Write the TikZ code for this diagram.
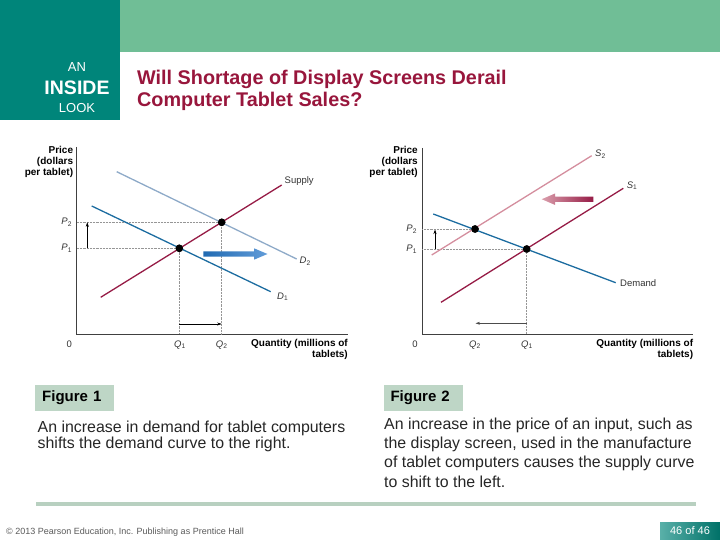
\documentclass[tikz,border=0pt]{standalone}
\usepackage{fontspec}
\setmainfont{Liberation Sans}
\usetikzlibrary{arrows.meta}

\definecolor{insideteal}{RGB}{0,133,122}
\definecolor{bandgreen}{RGB}{112,190,150}
\definecolor{titlered}{RGB}{152,22,60}
\definecolor{boxgreen}{RGB}{190,214,198}
\definecolor{rulegreen}{RGB}{184,208,192}
\definecolor{supplyred}{RGB}{150,28,70}
\definecolor{supplypink}{RGB}{212,142,158}
\definecolor{demandblue}{RGB}{28,108,160}
\definecolor{demandlight}{RGB}{142,170,200}
\definecolor{guidegray}{RGB}{150,150,150}
\definecolor{arrowblue}{RGB}{32,106,178}
\definecolor{arrowsky}{RGB}{98,156,216}

\newcommand{\cvlab}[2]{\textit{#1}\textsubscript{#2}}

\begin{document}
\begin{tikzpicture}[x=1pt, y=-1pt,
    axisline/.style={line width=0.7pt, black!75},
    curve/.style={line width=1.3pt},
    guide/.style={densely dotted, guidegray, line width=0.45pt},
    eqpt/.style={circle, fill=black, inner sep=0pt, minimum size=7.5pt},
    shiftarrow/.style={-{Stealth[length=4.5pt,width=3pt]}, line width=0.6pt},
    axlabel/.style={font=\bfseries\fontsize{10}{10.8}\selectfont, align=right, inner sep=0pt},
    curvelab/.style={font=\fontsize{9.5}{11}\selectfont, inner sep=0pt, text=black!80},
    figbox/.style={fill=boxgreen, minimum width=79pt, minimum height=26pt, anchor=north west,
      font=\bfseries\fontsize{15}{18}\selectfont, text width=65pt, inner xsep=7pt},
    bodytext/.style={anchor=north west, inner sep=0pt, align=left, text=black!85}]
  \useasboundingbox (0,0) rectangle (720,540);

  % Header
  \fill[bandgreen] (120,0) rectangle (720,52.5);
  \fill[insideteal] (0,0) rectangle (120,120.5);
  \node[text=white, font=\fontsize{13}{15}\selectfont] (an) at (77,67) {AN};
  \node[text=white, font=\bfseries\fontsize{19.5}{22}\selectfont] (inside) at (77,87.5) {INSIDE};
  \node[text=white, font=\fontsize{13}{15}\selectfont] (look) at (77,108) {LOOK};
  \node[anchor=west, inner sep=0pt, align=left, text=titlered,
    font=\bfseries\fontsize{19.8}{22}\selectfont] (title) at (137,90.5)
    {Will Shortage of Display Screens Derail\\Computer Tablet Sales?};

  % Figure 1: demand shift
  \draw[axisline] (76.7,147) -- (76.7,334) -- (348,334);
  \node[axlabel, anchor=north east] (price1) at (73.3,146) {Price\\(dollars\\per tablet)};
  \node[axlabel, anchor=north east] (qty1) at (348,339.5) {Quantity (millions of\\tablets)};
  \node[curvelab] (zero1) at (69.3,344) {0};

  \node[eqpt] (e1) at (179.3,248.3) {};
  \node[eqpt] (e2) at (221.7,222.3) {};
  \coordinate (p1a) at (76.7,248.3);
  \coordinate (p2a) at (76.7,222.3);
  \coordinate (q1a) at (179.3,334);
  \coordinate (q2a) at (221.7,334);
  \draw[guide] (p1a) -- (e1.center) -- (q1a);
  \draw[guide] (p2a) -- (e2.center) -- (q2a);

  \draw[curve, demandlight] (116.7,171.7) -- (296.7,259);
  \draw[curve, demandblue] (91.7,206) -- (270.7,291.7);
  \draw[curve, supplyred] (100.7,297.3) -- (281.7,185);
  \node[eqpt] at (e1) {};
  \node[eqpt] at (e2) {};

  \node[curvelab, anchor=west] (supplylab) at (284.5,181) {Supply};
  \node[curvelab, anchor=west] (d2lab) at (299.5,261.5) {\cvlab{D}{2}};
  \node[curvelab, anchor=west] (d1lab) at (277,296.5) {\cvlab{D}{1}};
  \node[curvelab] (p1lab) at (66.7,248.3) {\cvlab{P}{1}};
  \node[curvelab] (p2lab) at (66.7,222.3) {\cvlab{P}{2}};
  \node[curvelab] (q1lab) at (180,345) {\cvlab{Q}{1}};
  \node[curvelab] (q2lab) at (221.7,345) {\cvlab{Q}{2}};

  \coordinate (up1a) at (87.3,248.3);
  \coordinate (up1b) at (87.3,222.3);
  \coordinate (rt1a) at (179.3,324);
  \coordinate (rt1b) at (221.7,324);
  \draw[shiftarrow] (up1a) -- (up1b);
  \draw[shiftarrow] (rt1a) -- (rt1b);

  % big shift arrow (right)
  \shade[left color=arrowblue, right color=arrowsky]
    (203.3,251.3) -- (254,251.3) -- (254,248.3) -- (267.5,254) -- (254,259.7)
    -- (254,256.7) -- (203.3,256.7) -- cycle;

  % Figure 2: supply shift
  \draw[axisline] (422.3,148) -- (422.3,334.3) -- (693.3,334.3);
  \node[axlabel, anchor=north east] (price2) at (418,146) {Price\\(dollars\\per tablet)};
  \node[axlabel, anchor=north east] (qty2) at (693.3,339.5) {Quantity (millions of\\tablets)};
  \node[curvelab] (zero2) at (415,344) {0};

  \node[eqpt] (f1) at (526.7,249) {};
  \node[eqpt] (f2) at (475,229) {};
  \coordinate (r1a) at (422.3,249);
  \coordinate (r2a) at (422.3,229);
  \coordinate (s1a) at (526.7,334.3);
  \draw[guide] (r1a) -- (f1.center) -- (s1a);
  \draw[guide] (r2a) -- (f2.center);

  \draw[curve, supplypink] (431.7,255) -- (591.7,155.7);
  \draw[curve, supplyred] (441,302.3) -- (623.3,188.3);
  \draw[curve, demandblue] (433.3,214) -- (615.7,282.7);
  \node[eqpt] at (f1) {};
  \node[eqpt] at (f2) {};

  \node[curvelab, anchor=west] (s2lab) at (595,154.3) {\cvlab{S}{2}};
  \node[curvelab, anchor=west] (s1lab) at (626.7,185.7) {\cvlab{S}{1}};
  \node[curvelab, anchor=west] (demlab) at (620,283.3) {Demand};
  \node[curvelab] (r1lab) at (411.7,249) {\cvlab{P}{1}};
  \node[curvelab] (r2lab) at (411.7,229.5) {\cvlab{P}{2}};
  \node[curvelab] (s1qlab) at (527,345) {\cvlab{Q}{1}};
  \node[curvelab] (s2qlab) at (475,345) {\cvlab{Q}{2}};

  \coordinate (up2a) at (435,249);
  \coordinate (up2b) at (435,229.5);
  \coordinate (lf2a) at (526.7,323.3);
  \coordinate (lf2b) at (475.5,323.3);
  \draw[shiftarrow] (up2a) -- (up2b);
  \draw[shiftarrow, black!70] (lf2a) -- (lf2b);

  % big shift arrow (left)
  \shade[left color=supplypink!85!white, right color=supplyred]
    (593.3,196.6) -- (555,196.6) -- (555,193.5) -- (541.7,199.2) -- (555,204.9)
    -- (555,201.8) -- (593.3,201.8) -- cycle;

  % Captions
  \node[figbox] (fig1box) at (35,384.5) {Figure 1};
  \node[figbox] (fig2box) at (383.3,384.5) {Figure 2};
  \node[bodytext, font=\fontsize{15.9}{16.7}\selectfont] (text1) at (37.5,420.3)
    {An increase in demand for tablet computers\\shifts the demand curve to the right.};
  \node[bodytext, font=\fontsize{15.9}{19.3}\selectfont] (text2) at (384,417.6)
    {An increase in the price of an input, such as\\the display screen, used in the manufacture\\of tablet computers causes the supply curve\\to shift to the left.};

  % Footer
  \draw[rulegreen, line width=4.8pt] (36,504) -- (696,504);
  \node[anchor=west, inner sep=0pt, text=black!65, font=\fontsize{9}{10}\selectfont] (copy) at (6,532)
    {\textcopyright\ 2013 Pearson Education, Inc. Publishing as Prentice Hall};
  \shade[left color=insideteal!65!white, right color=insideteal!85!black] (660,522) rectangle (720,540);
  \node[text=white, font=\fontsize{11}{13}\selectfont] (pageno) at (690,531) {46 of 46};
\end{tikzpicture}
\end{document}
